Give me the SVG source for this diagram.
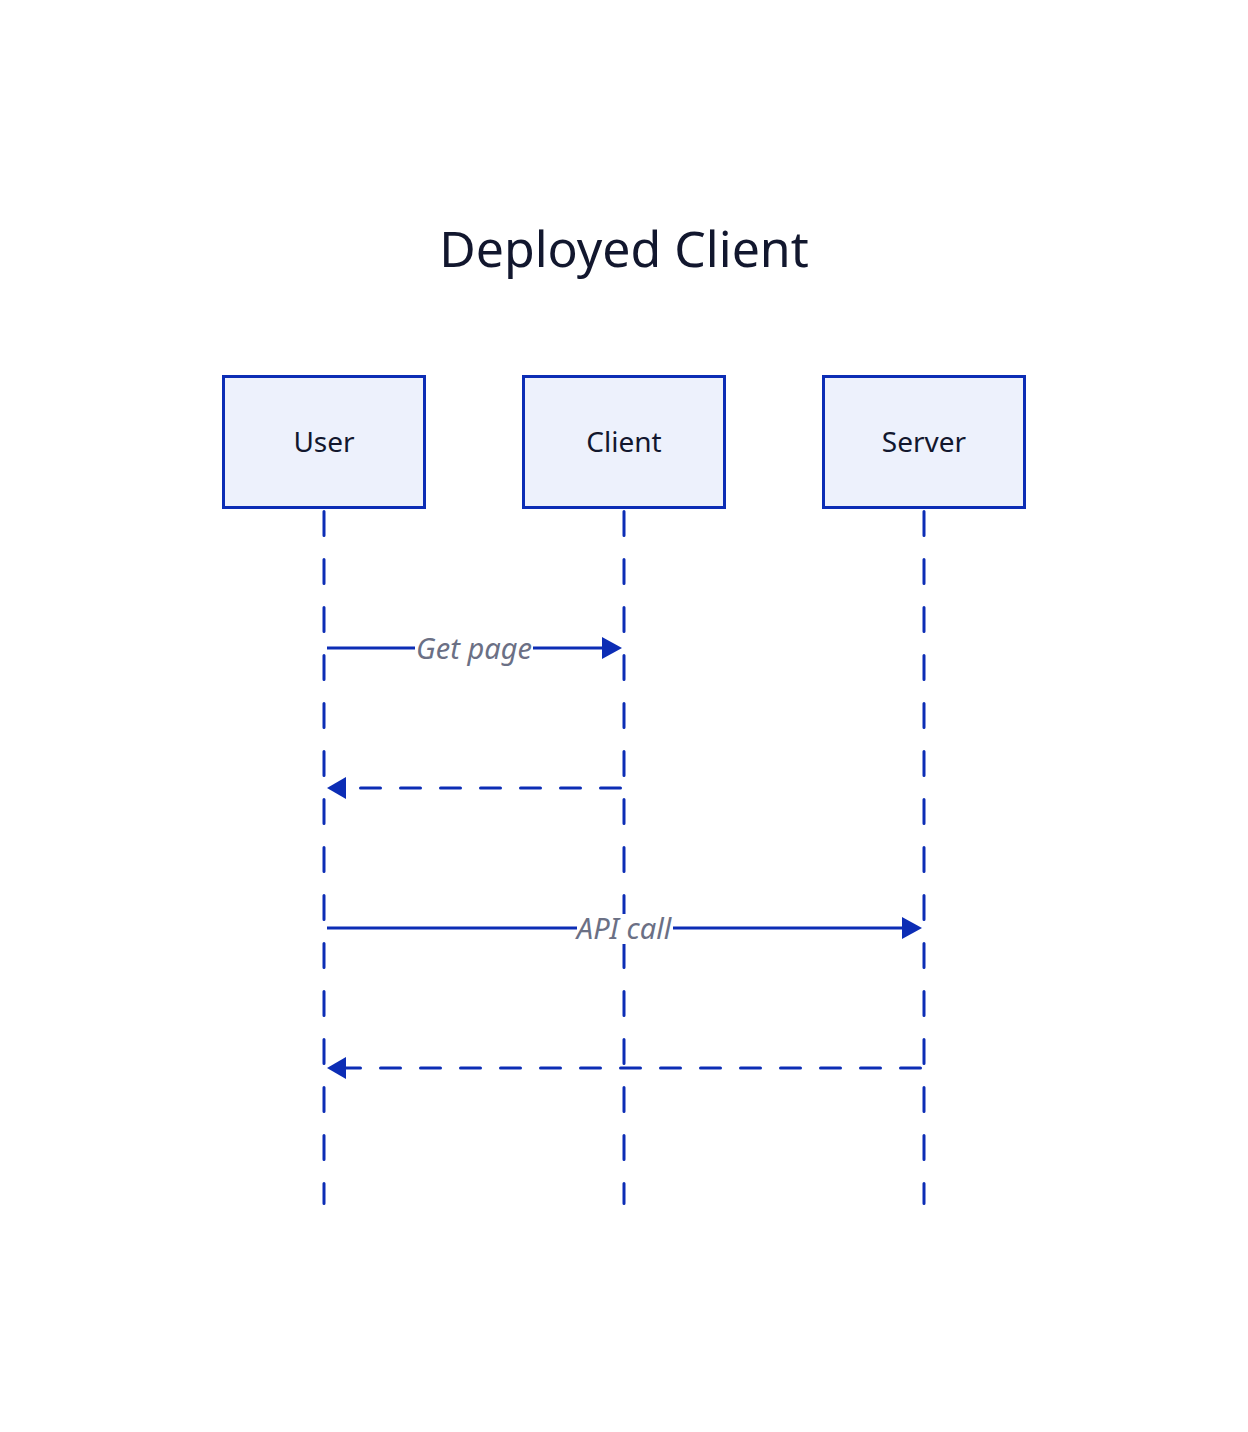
<svg xmlns="http://www.w3.org/2000/svg" width="1248" height="1432" viewBox="0 0 1248 1432">
<style>
.box{fill:#edf1fc;stroke:#0c2db5;stroke-width:3}
.lbl{font-family:"Noto Sans","Open Sans",sans-serif;font-size:28px;fill:#12172e;text-anchor:middle}
.life{stroke:#0c2db5;stroke-width:3;stroke-dasharray:24 24;stroke-linecap:round;fill:none}
.msg{stroke:#0c2db5;stroke-width:3;fill:none}
.ret{stroke:#0c2db5;stroke-width:3;fill:none;stroke-dasharray:20 20;stroke-linecap:round}
.mlbl{font-family:"Noto Sans","Open Sans",sans-serif;font-size:29px;font-style:italic;fill:#6b7085;text-anchor:middle}
.head{fill:#0c2db5}
</style>
<rect width="1248" height="1432" fill="#ffffff"/>
<text x="624" y="267" font-family="'Noto Sans','Open Sans',sans-serif" font-size="50" fill="#12172e" text-anchor="middle">Deployed Client</text>
<g id="connectors">
<line class="life" x1="324" y1="511.5" x2="324" y2="1203.5"/>
<line class="life" x1="624" y1="511.5" x2="624" y2="1203.5"/>
<line class="life" x1="924" y1="511.5" x2="924" y2="1203.5"/>
<g id="m1">
<line class="msg" x1="327" y1="648" x2="605" y2="648"/>
<polygon class="head" points="602,637 622,648 602,659"/>
<rect x="415" y="634" width="118" height="30" fill="#fff"/>
<text class="mlbl" x="474" y="659">Get page</text>
</g>
<g id="m2">
<line class="ret" x1="620.5" y1="788" x2="346" y2="788"/>
<polygon class="head" points="346,777 327,788 346,799"/>
</g>
<g id="m3">
<line class="msg" x1="327" y1="928" x2="905" y2="928"/>
<polygon class="head" points="902,917 922,928 902,939"/>
<rect x="577" y="914" width="96" height="30" fill="#fff"/>
<text class="mlbl" x="624" y="939">API call</text>
</g>
<g id="m4">
<line class="ret" x1="920.5" y1="1068" x2="346" y2="1068"/>
<polygon class="head" points="346,1057 327,1068 346,1079"/>
</g>
</g>
<g id="user"><rect class="box" x="223.5" y="376.5" width="201" height="131"/><text class="lbl" x="324" y="452">User</text></g>
<g id="client"><rect class="box" x="523.5" y="376.5" width="201" height="131"/><text class="lbl" x="624" y="452">Client</text></g>
<g id="server"><rect class="box" x="823.5" y="376.5" width="201" height="131"/><text class="lbl" x="924" y="452">Server</text></g>
</svg>
